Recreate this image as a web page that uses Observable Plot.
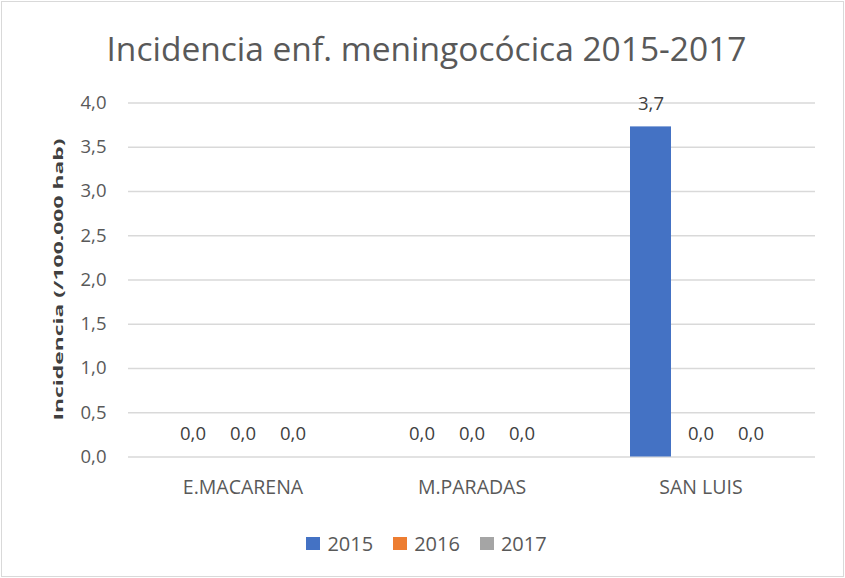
<!DOCTYPE html>
<html>
<head>
<meta charset="utf-8">
<script src="https://cdn.jsdelivr.net/npm/d3@7"></script>
<script src="https://cdn.jsdelivr.net/npm/@observablehq/plot@0.6"></script>
<style>
  html, body { margin: 0; padding: 0; background: #fff; }
  #wrap { position: relative; width: 845px; height: 578px; overflow: hidden; font-family: "Open Sans", sans-serif; }
  #border { position: absolute; left: 1px; top: 1px; width: 841px; height: 574px; border: 1px solid #d9d9d9; pointer-events: none; }
  #title { position: absolute; left: 4px; top: 32px; width: 845px; text-align: center; font-size: 33.5px; color: #595959; line-height: 1; white-space: nowrap; }
  #chart { position: absolute; left: 0; top: 0; }
  #legend { position: absolute; left: 0; top: 530px; width: 845px; display: flex; justify-content: center; gap: 20px; font-size: 20px; color: #595959; padding-left: 8px; box-sizing: border-box; }
  .item { display: flex; align-items: center; gap: 7px; }
  .sw { width: 14px; height: 13px; display: inline-block; }
</style>
</head>
<body>
<div id="wrap">
  <div id="title">Incidencia enf. meningocócica 2015-2017</div>
  <div id="chart"></div>
  <div id="legend"></div>
  <div id="border"></div>
</div>
<script>
const categories = ["E.MACARENA", "M.PARADAS", "SAN LUIS"];
const years = ["2015", "2016", "2017"];
const values2015 = [0, 0, 3.73];
const values2016 = [0, 0, 0];
const values2017 = [0, 0, 0];
const yTicks = [0, 0.5, 1, 1.5, 2, 2.5, 3, 3.5, 4];
const colors = ["#4472C4", "#ED7D31", "#A5A5A5"];
const yLabel = "Incidencia (/100.000 hab)";

const series = [values2015, values2016, values2017];
const data = categories.flatMap((c, i) => years.map((y, j) => ({cat: c, year: y, value: series[j][i]})));
const fmt = d => d.toFixed(1).replace(".", ",");

const chart = Plot.plot({
  width: 845,
  height: 520,
  marginTop: 102.5,
  marginBottom: 63.5,
  marginLeft: 127,
  marginRight: 30,
  style: {fontFamily: "Open Sans", fontSize: "18px", color: "#595959", background: "transparent"},
  fx: {domain: categories, paddingInner: 0, paddingOuter: 0, label: null},
  x: {domain: years, paddingInner: 0.19, paddingOuter: 0.85, axis: null},
  y: {domain: [0, 4], label: null},
  color: {domain: years, range: colors},
  marks: [
    Plot.gridY(yTicks, {stroke: "#d9d9d9", strokeOpacity: 1, strokeWidth: 1.3}),
    Plot.barY(data, {fx: "cat", x: "year", y: "value", fill: "year"}),
    Plot.text(data, {fx: "cat", x: "year", y: "value", text: d => fmt(d.value), dy: -23, fontSize: 18.5, fill: "#404040"}),
    Plot.axisY({ticks: yTicks, tickFormat: fmt, tickSize: 0, tickPadding: 22, fontSize: 18.5, fill: "#595959", label: null}),
    Plot.axisFx({anchor: "bottom", tickSize: 0, tickPadding: 23, fontSize: 19.5, fill: "#595959", label: null})
  ]
});
document.getElementById("chart").appendChild(chart);

d3.select(chart).append("text")
  .attr("transform", "translate(58,279.5) rotate(-90)")
  .attr("text-anchor", "middle")
  .attr("dominant-baseline", "central")
  .attr("font-family", "Open Sans")
  .attr("font-weight", "bold")
  .attr("font-size", 13)
  .attr("fill", "#404040")
  .attr("textLength", 282)
  .attr("lengthAdjust", "spacingAndGlyphs")
  .text(yLabel);

const legend = d3.select("#legend");
years.forEach((y, i) => {
  const it = legend.append("div").attr("class", "item");
  it.append("span").attr("class", "sw").style("background", colors[i]);
  it.append("span").text(y);
});
</script>
</body>
</html>
